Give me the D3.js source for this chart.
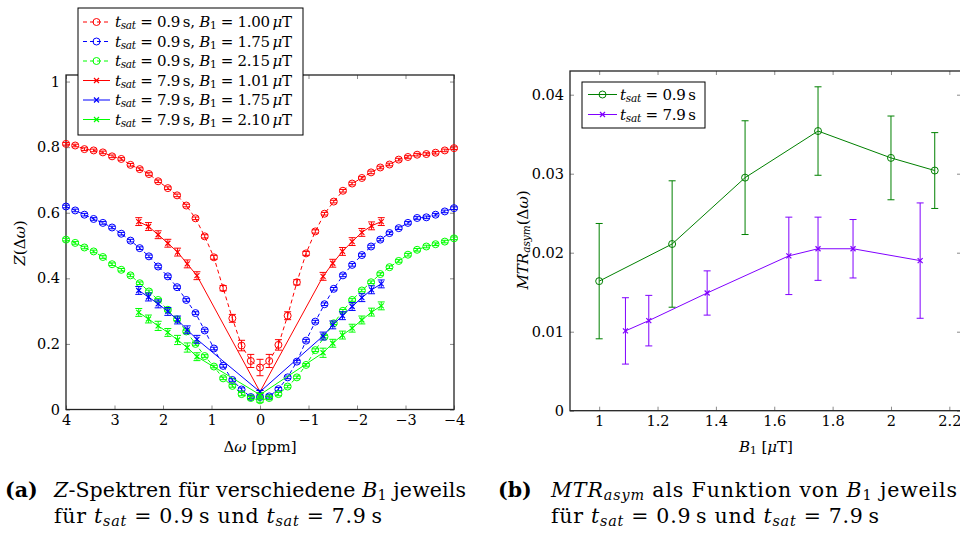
<!DOCTYPE html>
<html><head><meta charset="utf-8">
<script src="https://cdn.jsdelivr.net/npm/d3@7"></script>
<style>
body{margin:0;background:#fff}
svg{display:block}
text{font-family:"DejaVu Serif","Liberation Serif",serif;fill:#000}
</style>
</head><body>
<svg id="c" width="960" height="533"></svg>
<script>
// ---------- data: panel (a) Z-spectra ----------
const offsets09 = [4, 3.81, 3.62, 3.43, 3.24, 3.05, 2.86, 2.67, 2.48, 2.29, 2.10, 1.90, 1.71, 1.52, 1.33, 1.14, 0.95, 0.76, 0.57, 0.38, 0.19, 0,
  -0.19, -0.38, -0.57, -0.76, -0.95, -1.14, -1.33, -1.52, -1.71, -1.90, -2.10, -2.29, -2.48, -2.67, -2.86, -3.05, -3.24, -3.43, -3.62, -3.81, -4];
const zRed09 = [0.810, 0.805, 0.794, 0.790, 0.784, 0.772, 0.764, 0.746, 0.733, 0.718, 0.696, 0.675, 0.653, 0.622, 0.583, 0.528, 0.464, 0.370, 0.278, 0.195, 0.148, 0.128,
  0.148, 0.197, 0.286, 0.388, 0.476, 0.543, 0.597, 0.634, 0.667, 0.689, 0.706, 0.723, 0.738, 0.747, 0.762, 0.770, 0.777, 0.779, 0.783, 0.790, 0.797];
const zBlue09 = [0.619, 0.607, 0.594, 0.581, 0.569, 0.555, 0.536, 0.515, 0.492, 0.467, 0.436, 0.406, 0.373, 0.334, 0.294, 0.241, 0.186, 0.133, 0.090, 0.061, 0.038, 0.038,
  0.040, 0.062, 0.098, 0.146, 0.210, 0.268, 0.321, 0.368, 0.409, 0.441, 0.471, 0.497, 0.518, 0.538, 0.553, 0.569, 0.584, 0.586, 0.594, 0.604, 0.614];
const zGreen09 = [0.518, 0.508, 0.494, 0.482, 0.465, 0.443, 0.426, 0.409, 0.385, 0.360, 0.334, 0.304, 0.275, 0.238, 0.200, 0.163, 0.131, 0.095, 0.072, 0.047, 0.035, 0.028,
  0.035, 0.047, 0.070, 0.098, 0.136, 0.181, 0.222, 0.263, 0.301, 0.334, 0.363, 0.388, 0.413, 0.434, 0.453, 0.472, 0.487, 0.497, 0.504, 0.512, 0.522];
const errRed09 = [0.004, 0.004, 0.004, 0.004, 0.004, 0.004, 0.004, 0.004, 0.004, 0.004, 0.004, 0.004, 0.004, 0.004, 0.004, 0.005, 0.006, 0.008, 0.012, 0.016, 0.020, 0.025,
  0.020, 0.016, 0.012, 0.008, 0.006, 0.005, 0.004, 0.004, 0.004, 0.004, 0.004, 0.004, 0.004, 0.004, 0.004, 0.004, 0.004, 0.004, 0.004, 0.004, 0.004];
const errBlue09 = [0.004, 0.004, 0.004, 0.004, 0.004, 0.004, 0.004, 0.004, 0.004, 0.004, 0.004, 0.004, 0.004, 0.004, 0.004, 0.004, 0.004, 0.004, 0.004, 0.005, 0.005, 0.006,
  0.005, 0.005, 0.004, 0.004, 0.004, 0.004, 0.004, 0.004, 0.004, 0.004, 0.004, 0.004, 0.004, 0.004, 0.004, 0.004, 0.004, 0.004, 0.004, 0.004, 0.004];
const errGreen09 = [0.004, 0.004, 0.004, 0.004, 0.004, 0.004, 0.004, 0.004, 0.004, 0.004, 0.004, 0.004, 0.004, 0.004, 0.004, 0.004, 0.004, 0.004, 0.004, 0.005, 0.005, 0.006,
  0.005, 0.005, 0.004, 0.004, 0.004, 0.004, 0.004, 0.004, 0.004, 0.004, 0.004, 0.004, 0.004, 0.004, 0.004, 0.004, 0.004, 0.004, 0.004, 0.004, 0.004];

const offsets79 = [2.5, 2.3, 2.1, 1.9, 1.7, 1.5, 1.3, 0, -1.3, -1.5, -1.7, -1.9, -2.1, -2.3, -2.5];
const zRed79 = [0.573, 0.558, 0.533, 0.507, 0.480, 0.444, 0.408, 0.054, 0.406, 0.446, 0.482, 0.512, 0.540, 0.560, 0.573];
const zBlue79 = [0.363, 0.343, 0.322, 0.299, 0.273, 0.243, 0.214, 0.054, 0.224, 0.258, 0.286, 0.314, 0.341, 0.365, 0.383];
const zGreen79 = [0.296, 0.276, 0.255, 0.235, 0.212, 0.189, 0.161, 0.045, 0.173, 0.202, 0.227, 0.248, 0.273, 0.297, 0.316];
const errRed79 = [0.012, 0.012, 0.012, 0.012, 0.012, 0.012, 0.012, 0.004, 0.012, 0.012, 0.012, 0.012, 0.012, 0.012, 0.012];
const errBlue79 = [0.012, 0.012, 0.012, 0.012, 0.012, 0.012, 0.012, 0.004, 0.012, 0.012, 0.012, 0.012, 0.012, 0.012, 0.012];
const errGreen79 = [0.012, 0.012, 0.014, 0.012, 0.014, 0.014, 0.012, 0.004, 0.014, 0.012, 0.012, 0.012, 0.012, 0.012, 0.012];

const legendB1Values = ["1.00", "1.75", "2.15", "1.01", "1.75", "2.10"];
const legendTsat = ["0.9", "0.9", "0.9", "7.9", "7.9", "7.9"];
const xTicksA = [4, 3, 2, 1, 0, -1, -2, -3, -4];
const yTicksA = [0, 0.2, 0.4, 0.6, 0.8, 1];

// ---------- data: panel (b) MTR_asym ----------
const b1Short = [1.0, 1.25, 1.5, 1.75, 2.0, 2.15];
const mtrShort = [0.0164, 0.0211, 0.0295, 0.0354, 0.0320, 0.0304];
const errShort = [0.0073, 0.0080, 0.0072, 0.0056, 0.0053, 0.0048];
const b1Long = [1.09, 1.17, 1.37, 1.65, 1.75, 1.87, 2.10];
const mtrLong = [0.0101, 0.0114, 0.0149, 0.0196, 0.0205, 0.0205, 0.0190];
const errLong = [0.0042, 0.0032, 0.0028, 0.0049, 0.0040, 0.0037, 0.0073];
const xTicksB = [1, 1.2, 1.4, 1.6, 1.8, 2, 2.2];
const yTicksB = [0, 0.01, 0.02, 0.03, 0.04];

// ---------- helpers ----------
const svg = d3.select("#c");
const FONT = "DejaVu Serif";
const FS = 15;      // plot text
const TFS = 14.5;   // tick labels
function rich(sel, parts, size) {
  let shift = 0;
  parts.forEach(p => {
    const ts = sel.append("tspan").text(p.t);
    const target = p.sub ? size * 0.15 : 0;
    if (target !== shift) { ts.attr("dy", target - shift); shift = target; }
    ts.attr("font-size", p.sub ? size * 0.7 : size);
    if (p.i) ts.attr("font-style", "italic");
    if (p.b) ts.attr("font-weight", "bold");
  });
  return sel;
}
const tsat = [{t: "t", i: 1}, {t: "sat", i: 1, sub: 1}];
const TH = "\u2009";

function drawAxes(g, x, y, xt, yt) {
  const [x0, x1] = x.range(), [y0, y1] = y.range();
  const tickStyle = s => s.selectAll(".tick line").attr("stroke", "#8a8a8a").attr("stroke-width", 1);
  const lab = s => s.selectAll("text").attr("font-size", TFS).attr("font-family", FONT);
  const ax = g.append("g").attr("transform", `translate(0,${y0})`)
    .call(d3.axisBottom(x).tickValues(xt).tickSize(-4).tickPadding(5).tickFormat(d => d3.format("")(d)));
  ax.select(".domain").remove(); tickStyle(ax); lab(ax);
  const axT = g.append("g").attr("transform", `translate(0,${y1})`)
    .call(d3.axisTop(x).tickValues(xt).tickSize(-4).tickFormat(""));
  axT.select(".domain").remove(); tickStyle(axT);
  const ay = g.append("g").attr("transform", `translate(${x0},0)`)
    .call(d3.axisLeft(y).tickValues(yt).tickSize(-4).tickPadding(6).tickFormat(d => String(d)));
  ay.select(".domain").remove(); tickStyle(ay); lab(ay);
  const ayR = g.append("g").attr("transform", `translate(${x1},0)`)
    .call(d3.axisRight(y).tickValues(yt).tickSize(-4).tickFormat(""));
  ayR.select(".domain").remove(); tickStyle(ayR);
  g.append("rect").attr("x", x0).attr("y", y1).attr("width", x1 - x0).attr("height", y0 - y1)
    .attr("fill", "none").attr("stroke", "#222").attr("stroke-width", 1.3);
}

function errorBars(g, x, y, xs, ys, es, color, cap) {
  xs.forEach((xv, i) => {
    const cx = x(xv), ylo = y(ys[i] - es[i]), yhi = y(ys[i] + es[i]);
    const eg = g.append("g").attr("stroke", color).attr("stroke-width", 1);
    eg.append("line").attr("x1", cx).attr("x2", cx).attr("y1", ylo).attr("y2", yhi);
    eg.append("line").attr("x1", cx - cap).attr("x2", cx + cap).attr("y1", ylo).attr("y2", ylo);
    eg.append("line").attr("x1", cx - cap).attr("x2", cx + cap).attr("y1", yhi).attr("y2", yhi);
  });
}
function circles(g, x, y, xs, ys, color, r) {
  g.selectAll(null).data(xs).enter().append("circle")
    .attr("cx", d => x(d)).attr("cy", (d, i) => y(ys[i])).attr("r", r)
    .attr("fill", "none").attr("stroke", color).attr("stroke-width", 1);
}
function crosses(g, x, y, xs, ys, color, s) {
  xs.forEach((xv, i) => {
    const cx = x(xv), cy = y(ys[i]);
    g.append("path").attr("d", `M${cx - s},${cy - s}L${cx + s},${cy + s}M${cx - s},${cy + s}L${cx + s},${cy - s}`)
      .attr("stroke", color).attr("stroke-width", 1.2).attr("fill", "none");
  });
}
function line(g, x, y, xs, ys, color, dash) {
  const l = d3.line().x(d => x(d[0])).y(d => y(d[1]));
  const p = g.append("path").attr("d", l(xs.map((v, i) => [v, ys[i]])))
    .attr("fill", "none").attr("stroke", color).attr("stroke-width", 1);
  if (dash) p.attr("stroke-dasharray", dash);
}

// ---------- panel (a) ----------
const RED = "#ff0000", BLUE = "#0000ff", GREEN = "#00ff00";
const xA = d3.scaleLinear().domain([4, -4]).range([66, 454]);
const yA = d3.scaleLinear().domain([0, 1.02]).range([409.5, 75]);
const gA = svg.append("g");
drawAxes(gA, xA, yA, xTicksA, yTicksA);

const DASH = "4,3";
const shortSeries = [[zRed09, errRed09, RED], [zBlue09, errBlue09, BLUE], [zGreen09, errGreen09, GREEN]];
shortSeries.forEach(([ys, es, c]) => {
  line(gA, xA, yA, offsets09, ys, c, DASH);
  errorBars(gA, xA, yA, offsets09, ys, es, c, 3.5);
  circles(gA, xA, yA, offsets09, ys, c, 3.5);
});
const longSeries = [[zRed79, errRed79, RED], [zBlue79, errBlue79, BLUE], [zGreen79, errGreen79, GREEN]];
longSeries.forEach(([ys, es, c]) => {
  line(gA, xA, yA, offsets79, ys, c, null);
  errorBars(gA, xA, yA, offsets79, ys, es, c, 3.5);
  crosses(gA, xA, yA, offsets79, ys, c, 2.5);
});

// axis labels (a)
rich(svg.append("text").attr("transform", "translate(25,243) rotate(-90)").attr("text-anchor", "middle"),
  [{t: "Z", i: 1}, {t: "(Δ"}, {t: "ω", i: 1}, {t: ")"}], FS);
rich(svg.append("text").attr("x", 260).attr("y", 452).attr("text-anchor", "middle"),
  [{t: "Δ"}, {t: "ω", i: 1}, {t: " [ppm]"}], FS);

// legend (a)
const legA = svg.append("g");
legA.append("rect").attr("x", 78).attr("y", 8).attr("width", 225).attr("height", 127)
  .attr("fill", "#fff").attr("stroke", "#000").attr("stroke-width", 1);
const legColors = [RED, BLUE, GREEN, RED, BLUE, GREEN];
legendB1Values.forEach((b, i) => {
  const yy = 22 + i * 19.5;
  const c = legColors[i];
  const dashed = i < 3;
  const lx = d3.scaleLinear().domain([0, 1]).range([83, 110]);
  const ly = d3.scaleLinear().domain([0, 1]).range([yy, yy]);
  line(legA, lx, ly, [0, 1], [0.5, 0.5], c, dashed ? DASH : null);
  if (dashed) circles(legA, lx, ly, [0.5], [0.5], c, 3.5);
  else crosses(legA, lx, ly, [0.5], [0.5], c, 2.5);
  rich(legA.append("text").attr("x", 115).attr("y", yy + 5).attr("textLength", 177),
    [...tsat, {t: " = " + legendTsat[i] + TH + "s, "}, {t: "B", i: 1}, {t: "1", sub: 1}, {t: " = " + b + TH}, {t: "μ", i: 1}, {t: "T"}], FS);
});

// ---------- panel (b) ----------
const DGREEN = "#008000", PURPLE = "#8000ff";
const xB = d3.scaleLinear().domain([0.9, 2.24]).range([570, 961]);
const yB = d3.scaleLinear().domain([0, 0.043]).range([410.7, 71]);
const gB = svg.append("g");
drawAxes(gB, xB, yB, xTicksB, yTicksB);
line(gB, xB, yB, b1Short, mtrShort, DGREEN, null);
errorBars(gB, xB, yB, b1Short, mtrShort, errShort, DGREEN, 3.5);
circles(gB, xB, yB, b1Short, mtrShort, DGREEN, 3.5);
line(gB, xB, yB, b1Long, mtrLong, PURPLE, null);
errorBars(gB, xB, yB, b1Long, mtrLong, errLong, PURPLE, 3.5);
crosses(gB, xB, yB, b1Long, mtrLong, PURPLE, 2.5);

rich(svg.append("text").attr("transform", "translate(528,240) rotate(-90)").attr("text-anchor", "middle"),
  [{t: "MTR", i: 1}, {t: "asym", i: 1, sub: 1}, {t: "(Δ"}, {t: "ω", i: 1}, {t: ")"}], FS);
rich(svg.append("text").attr("x", 766).attr("y", 452).attr("text-anchor", "middle"),
  [{t: "B", i: 1}, {t: "1", sub: 1}, {t: " ["}, {t: "μ", i: 1}, {t: "T]"}], FS);

const legB = svg.append("g");
legB.append("rect").attr("x", 582).attr("y", 82).attr("width", 123).attr("height", 46)
  .attr("fill", "#fff").attr("stroke", "#000").attr("stroke-width", 1);
[["0.9", DGREEN, 0], ["7.9", PURPLE, 1]].forEach(([ts, c, i]) => {
  const yy = 94.5 + i * 20;
  const lx = d3.scaleLinear().domain([0, 1]).range([588, 617]);
  const ly = d3.scaleLinear().domain([0, 1]).range([yy, yy]);
  line(legB, lx, ly, [0, 1], [0.5, 0.5], c, null);
  if (i === 0) circles(legB, lx, ly, [0.5], [0.5], c, 3.5);
  else crosses(legB, lx, ly, [0.5], [0.5], c, 2.5);
  rich(legB.append("text").attr("x", 620).attr("y", yy + 5).attr("textLength", 76), [...tsat, {t: " = " + ts + TH + "s"}], FS);
});

// ---------- captions ----------
const CF = 20.5;
svg.append("text").attr("x", 5).attr("y", 496.5).attr("font-size", CF).attr("font-weight", "bold").text("(a)");
rich(svg.append("text").attr("x", 54).attr("y", 496.5).attr("textLength", 412),
  [{t: "Z", i: 1}, {t: "-Spektren für verschiedene "}, {t: "B", i: 1}, {t: "1", sub: 1}, {t: " jeweils"}], CF);
rich(svg.append("text").attr("x", 54).attr("y", 523).attr("textLength", 328),
  [{t: "für "}, ...tsat, {t: " = 0.9" + TH + "s und "}, ...tsat, {t: " = 7.9" + TH + "s"}], CF);
svg.append("text").attr("x", 498).attr("y", 496.5).attr("font-size", CF).attr("font-weight", "bold").text("(b)");
rich(svg.append("text").attr("x", 551).attr("y", 496.5).attr("textLength", 406),
  [{t: "MTR", i: 1}, {t: "asym", i: 1, sub: 1}, {t: " als Funktion von "}, {t: "B", i: 1}, {t: "1", sub: 1}, {t: " jeweils"}], CF);
rich(svg.append("text").attr("x", 551).attr("y", 523).attr("textLength", 328),
  [{t: "für "}, ...tsat, {t: " = 0.9" + TH + "s und "}, ...tsat, {t: " = 7.9" + TH + "s"}], CF);
</script>
</body></html>
